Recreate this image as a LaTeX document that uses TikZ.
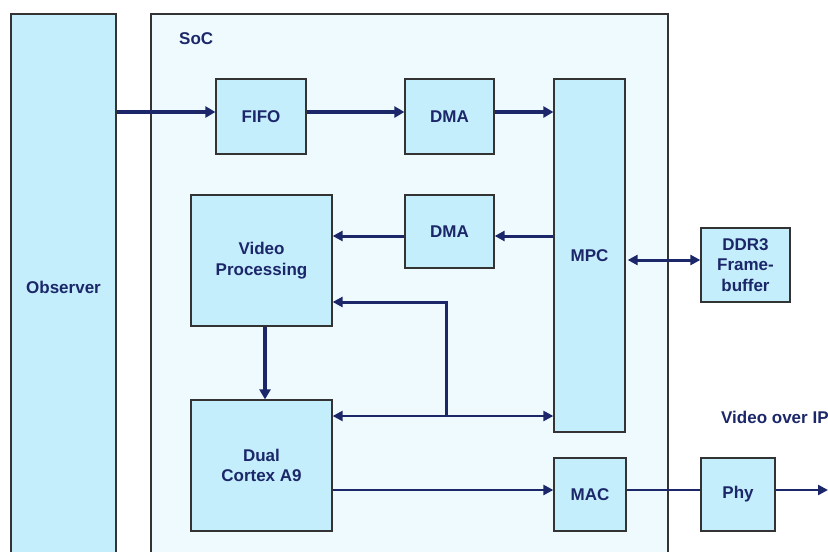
\documentclass[tikz,border=0pt]{standalone}
\usepackage{fontspec}
\setmainfont{Liberation Sans}
\usetikzlibrary{arrows.meta}
\definecolor{boxfill}{HTML}{C5EEFD}
\definecolor{socfill}{HTML}{EFFAFF}
\definecolor{navy}{HTML}{1B2769}
\definecolor{edge}{HTML}{333333}
\tikzset{
  blk/.style    ={draw=edge,line width=1.3pt,fill=boxfill,align=center,inner sep=0pt,
                  font=\fontsize{17}{20.5}\selectfont\bfseries,text=navy},
  heavy/.style  ={navy,line width=4pt,-{Triangle[length=10pt,width=11pt]}},
  mid/.style    ={navy,line width=3pt},
  light/.style  ={navy,line width=2.4pt},
  midtip/.tip   ={Triangle[length=10pt,width=10pt]},
  lbl/.style    ={font=\fontsize{17}{20}\selectfont\bfseries,text=navy,inner sep=0pt},
}
\begin{document}
\begin{tikzpicture}[x=1pt,y=-1pt]
  \clip (0,0) rectangle (828,552);
  \fill[white] (0,0) rectangle (828,552);
  % outer blocks
  \node[blk,minimum width=105pt,minimum height=546pt] (observer) at (63.5,287) {Observer};
  \node[draw=edge,line width=1.3pt,fill=socfill,minimum width=517pt,minimum height=560pt] (soc) at (409.5,294) {};
  \node[lbl,anchor=west] (soclbl) at (179,39) {SoC};
  % blocks inside the SoC
  \node[blk,minimum width=90pt,minimum height=75pt] (fifo) at (261,116.5) {FIFO};
  \node[blk,minimum width=89pt,minimum height=75pt] (dmain) at (449.5,116.5) {DMA};
  \node[blk,minimum width=71pt,minimum height=353pt] (mpc) at (589.5,255.5) {MPC};
  \node[blk,minimum width=89pt,minimum height=73pt] (dmaout) at (449.5,231.5) {DMA};
  \node[blk,minimum width=141pt,minimum height=131pt] (vproc) at (261.5,260.5) {Video\\Processing};
  \node[blk,minimum width=141pt,minimum height=131pt] (cpu) at (261.5,465.5) {Dual\\Cortex A9};
  \node[blk,minimum width=72pt,minimum height=73pt] (mac) at (590,494.5) {MAC};
  % blocks outside
  \node[blk,minimum width=89pt,minimum height=74pt] (ddr) at (745.5,265) {DDR3\\Frame-\\buffer};
  \node[blk,minimum width=74pt,minimum height=73pt] (phy) at (738,494.5) {Phy};
  \node[lbl,anchor=west] (vip) at (721,417) {Video over IP};
  \coordinate (out) at (828,490);
  % capture path
  \draw[heavy] (observer.east |- 0,112) -- ([yshift=4.5pt]fifo.west);
  \draw[heavy] ([yshift=4.5pt]fifo.east) -- ([yshift=4.5pt]dmain.west);
  \draw[heavy] ([yshift=4.5pt]dmain.east) -- (mpc.west |- 0,112);
  % display path
  \draw[mid,-midtip] (mpc.west |- 0,236) -- ([yshift=-4.5pt]dmaout.east);
  \draw[mid,-midtip] ([yshift=-4.5pt]dmaout.west) -- (vproc.east |- 0,236);
  \draw[heavy] ([xshift=3.5pt]vproc.south) -- ([xshift=3.5pt]cpu.north);
  % control bus
  \coordinate (tap) at (446,416);
  \draw[light,midtip-midtip] (cpu.east |- tap) -- (mpc.west |- tap);
  \draw[mid,-midtip] (tap) -- (446,302) -- (vproc.east |- 0,302);
  % memory and network
  \draw[mid,midtip-midtip] ([xshift=2pt,yshift=5pt]mpc.east |- ddr.west) -- ([yshift=5pt]ddr.west);
  \draw[light,-midtip] (cpu.east |- 0,490) -- ([yshift=4.5pt]mac.west);
  \draw[light] ([yshift=4.5pt]mac.east) -- ([yshift=4.5pt]phy.west);
  \draw[light,-midtip] ([yshift=4.5pt]phy.east) -- (out);
\end{tikzpicture}
\end{document}
